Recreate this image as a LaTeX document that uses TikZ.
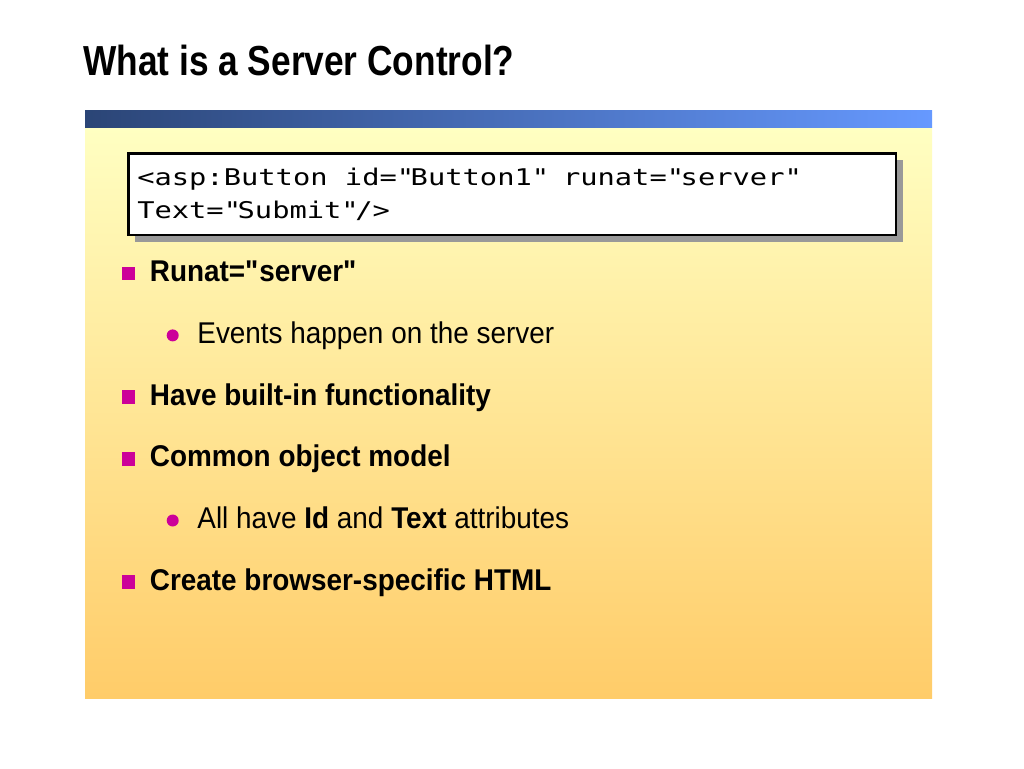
\documentclass[tikz,border=0pt]{standalone}
\usepackage{fontspec}
\setmainfont{Liberation Sans}[FakeStretch=0.93]
\newfontfamily\titlefont{Liberation Sans}[FakeStretch=0.84]
\newfontfamily\codefont{DejaVu Sans Mono}[FakeStretch=1.25]
\usetikzlibrary{positioning,shadows}

\definecolor{barnavy}{HTML}{2B4576}
\definecolor{barsky}{HTML}{6699FF}
\definecolor{panelpale}{HTML}{FFFFC2}
\definecolor{panelgold}{HTML}{FFCC69}
\definecolor{bulletpink}{HTML}{CC0099}
\definecolor{shadowgray}{HTML}{999999}

\newcommand{\qt}{\textquotedbl}
\newcommand{\codegap}{\hphantom{x}}

\begin{document}
\begin{tikzpicture}[x=1pt,y=-1pt,node distance=61.7pt and 44pt,on grid,
    square/.style={fill=bulletpink,minimum size=13.5pt,inner sep=0pt},
    dot/.style={circle,fill=bulletpink,minimum size=12pt,inner sep=0pt},
    point/.style={anchor=west,inner sep=0pt,text height=22pt,text depth=6pt,
      font=\fontsize{30}{36}\selectfont\bfseries},
    subpoint/.style={anchor=west,inner sep=0pt,text height=22pt,text depth=6pt,
      font=\fontsize{30}{36}\selectfont},
    codebox/.style={draw=black,line width=2.5pt,fill=white,
      minimum width=767.5pt,minimum height=81.5pt,inner xsep=9pt,
      text width=749.5pt,align=left,
      font=\codefont\fontsize{23}{33}\selectfont,
      drop shadow={shadow xshift=7pt,shadow yshift=-7pt,fill=shadowgray,opacity=1}}]
  % page and background
  \fill[white] (0,0) rectangle (1024,768);
  \useasboundingbox (0,0) rectangle (1024,768);
  \shade[top color=panelpale,bottom color=panelgold] (85,127) rectangle (932,698);
  \shade[left color=barnavy,right color=barsky] (85,110) rectangle (932,127);

  % title
  \node[anchor=base west,inner sep=0pt,font=\titlefont\fontsize{42}{50}\selectfont\bfseries]
    (title) at (83,75) {What is a Server Control?};

  % code sample
  \node[codebox] (code) at (512,194)
    {<asp:Button\codegap id=\qt Button1\qt\codegap runat=\qt server\qt\\Text=\qt Submit\qt/>};

  % bullets
  \node[square] (r1) at (128.7,273.7) {};
  \node[dot]    (e1) [below right=of r1] {};
  \node[square] (r2) [below left=of e1] {};
  \node[square] (r3) [below=of r2] {};
  \node[dot]    (e2) [below right=of r3] {};
  \node[square] (r4) [below left=of e2] {};

  \node (t1) [right=21pt of r1,point] {Runat=\qt server\qt};
  \node (s1) [right=24.5pt of e1,subpoint] {Events happen on the server};
  \node (t2) [right=21pt of r2,point] {Have built-in functionality};
  \node (t3) [right=21pt of r3,point] {Common object model};
  \node (s2) [right=24.5pt of e2,subpoint] {All have \textbf{Id} and \textbf{Text} attributes};
  \node (t4) [right=21pt of r4,point] {Create browser-specific HTML};
\end{tikzpicture}
\end{document}
